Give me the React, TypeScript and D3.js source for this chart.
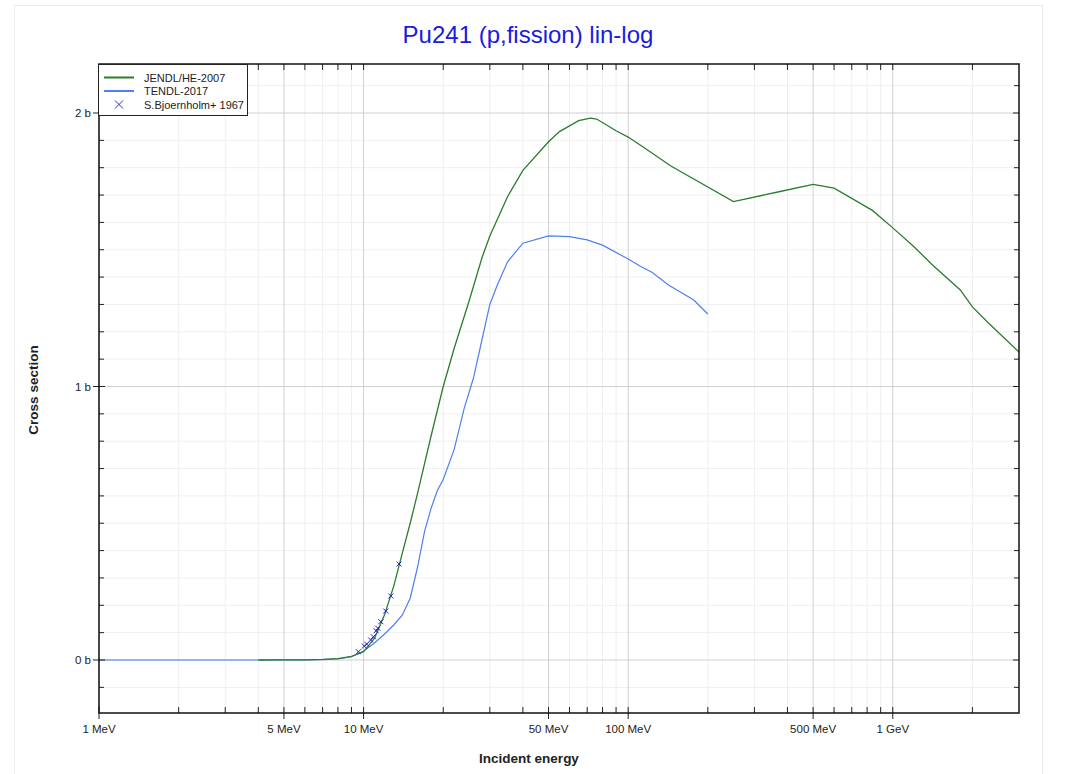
import React from "react";
import * as d3 from "d3";

const jendlE = [4, 5, 6, 7, 8, 9, 10, 11, 12, 13, 14, 15, 16, 18, 20, 22, 25, 28, 30, 35, 40, 50, 55, 65, 72, 76, 90, 100, 115, 145, 250, 375, 500, 600, 700, 840, 1000, 1200, 1400, 1800, 2000, 2300, 3000];
const jendlXS = [0, 0.0003, 0.0008, 0.002, 0.005, 0.013, 0.03, 0.08, 0.165, 0.27, 0.39, 0.5, 0.61, 0.82, 1.0, 1.14, 1.31, 1.47, 1.55, 1.694, 1.79, 1.895, 1.932, 1.972, 1.981, 1.978, 1.935, 1.912, 1.873, 1.806, 1.676, 1.713, 1.739, 1.725, 1.688, 1.643, 1.58, 1.512, 1.448, 1.353, 1.291, 1.232, 1.126];

const tendlE = [1, 2, 3, 4, 5, 6, 7, 8, 9, 10, 11, 12, 13, 14, 15, 16, 17, 18, 19, 20, 22, 24, 26, 28, 30, 32, 35, 40, 50, 60, 70, 80, 100, 112, 123, 142, 177, 200];
const tendlXS = [0, 0, 0, 0, 0.0002, 0.0006, 0.0015, 0.004, 0.012, 0.033, 0.062, 0.095, 0.128, 0.164, 0.226, 0.34, 0.47, 0.555, 0.62, 0.66, 0.77, 0.92, 1.03, 1.17, 1.3, 1.37, 1.456, 1.524, 1.551, 1.548, 1.536, 1.517, 1.466, 1.438, 1.418, 1.371, 1.316, 1.265];

const expE = [9.56, 10.07, 10.28, 10.64, 10.89, 11.15, 11.32, 11.62, 12.13, 12.68, 13.62];
const expXS = [0.03, 0.051, 0.058, 0.073, 0.085, 0.107, 0.116, 0.14, 0.179, 0.234, 0.351];

const xMajor = [1, 5, 10, 50, 100, 500, 1000];
const xMajorLabels = ["1 MeV", "5 MeV", "10 MeV", "50 MeV", "100 MeV", "500 MeV", "1 GeV"];
const xMinor = [2, 3, 4, 6, 7, 8, 9, 20, 30, 40, 60, 70, 80, 90, 200, 300, 400, 600, 700, 800, 900, 2000];
const yMajor = [0, 1, 2];
const yMajorLabels = ["0 b", "1 b", "2 b"];
const yMinor = [-0.1, 0.1, 0.2, 0.3, 0.4, 0.5, 0.6, 0.7, 0.8, 0.9, 1.1, 1.2, 1.3, 1.4, 1.5, 1.6, 1.7, 1.8, 1.9, 2.1];

const legendLabels = ["JENDL/HE-2007", "TENDL-2017", "S.Bjoernholm+ 1967"];

const GREEN = "#2a7d2e";
const BLUE = "#4f7ff0";
const MARK = "#1f1fb8";

export default function App() {
  const L = 99, R = 1019, T = 64, B = 713;
  const x = d3.scaleLog().domain([1, 3000]).range([L, R]);
  const y = d3.scaleLinear().domain([0, 2]).range([660, 113]);
  const line = d3
    .line<[number, number]>()
    .x((d) => x(d[0]))
    .y((d) => y(d[1]))
    .curve(d3.curveLinear);
  const jendl = jendlE.map((e, i) => [e, jendlXS[i]] as [number, number]);
  const tendl = tendlE.map((e, i) => [e, tendlXS[i]] as [number, number]);
  const font = "'Liberation Sans', Arial, sans-serif";

  return (
    <svg width={1067} height={774} style={{ position: "absolute", left: 0, top: 0 }} fontFamily={font}>
      <rect x={0} y={0} width={1067} height={774} fill="#fff" />
      <rect x={14.5} y={5.5} width={1028} height={800} fill="none" stroke="#ececec" />
      <text x={528} y={43} textAnchor="middle" fontSize={24} fill="#1a1ae0">
        Pu241 (p,fission) lin-log
      </text>
      <defs>
        <clipPath id="plotclip">
          <rect x={L} y={T} width={R - L} height={B - T} />
        </clipPath>
      </defs>
      {xMinor.map((v, i) => (
        <line key={"xm" + i} x1={x(v)} x2={x(v)} y1={T} y2={B} stroke="#efefef" />
      ))}
      {yMinor.map((v, i) => (
        <line key={"ym" + i} x1={L} x2={R} y1={y(v)} y2={y(v)} stroke="#efefef" />
      ))}
      {xMajor.map((v, i) => (
        <line key={"xM" + i} x1={x(v)} x2={x(v)} y1={T} y2={B} stroke="#d0d0d0" />
      ))}
      {yMajor.map((v, i) => (
        <line key={"yM" + i} x1={L} x2={R} y1={y(v)} y2={y(v)} stroke="#d0d0d0" />
      ))}
      <g clipPath="url(#plotclip)">
        <path d={line(tendl) || ""} fill="none" stroke={BLUE} strokeWidth={1.2} />
        <path d={line(jendl) || ""} fill="none" stroke={GREEN} strokeWidth={1.3} />
        {expE.map((e, i) => {
          const cx = x(e), cy = y(expXS[i]);
          return (
            <g key={"m" + i} stroke={MARK} strokeWidth={1}>
              <line x1={cx - 2.5} y1={cy - 2.5} x2={cx + 2.5} y2={cy + 2.5} />
              <line x1={cx - 2.5} y1={cy + 2.5} x2={cx + 2.5} y2={cy - 2.5} />
            </g>
          );
        })}
      </g>
      {xMinor.map((v, i) => (
        <g key={"xt" + i} stroke="#222">
          <line x1={x(v)} x2={x(v)} y1={B} y2={B - 6} />
          <line x1={x(v)} x2={x(v)} y1={T} y2={T + 6} />
        </g>
      ))}
      {xMajor.map((v, i) => (
        <g key={"xT" + i}>
          <line x1={x(v)} x2={x(v)} y1={B - 6} y2={B + 6} stroke="#222" />
          <line x1={x(v)} x2={x(v)} y1={T} y2={T + 6} stroke="#222" />
          <text x={x(v)} y={733} textAnchor="middle" fontSize={11.5} fill="#222">
            {xMajorLabels[i]}
          </text>
        </g>
      ))}
      {yMinor.map((v, i) => (
        <g key={"yt" + i} stroke="#222">
          <line x1={L} x2={L + 5} y1={y(v)} y2={y(v)} />
          <line x1={R} x2={R - 5} y1={y(v)} y2={y(v)} />
        </g>
      ))}
      {yMajor.map((v, i) => (
        <g key={"yT" + i}>
          <line x1={L - 6} x2={L + 6} y1={y(v)} y2={y(v)} stroke="#222" />
          <line x1={R - 6} x2={R} y1={y(v)} y2={y(v)} stroke="#222" />
          <text x={91} y={y(v) + 4} textAnchor="end" fontSize={11.5} fill="#222">
            {yMajorLabels[i]}
          </text>
        </g>
      ))}
      <rect x={L} y={T} width={R - L} height={B - T} fill="none" stroke="#111" strokeWidth={1.5} />
      <text x={529} y={763} textAnchor="middle" fontSize={13.5} fontWeight="bold" fill="#222">
        Incident energy
      </text>
      <text
        transform="translate(38,390) rotate(-90)"
        textAnchor="middle"
        fontSize={13.5}
        fontWeight="bold"
        fill="#222"
      >
        Cross section
      </text>
      <g>
        <rect x={98.5} y={64.5} width={149} height={51} fill="#fff" stroke="#222" strokeWidth={1} />
        <line x1={104} x2={134} y1={77.5} y2={77.5} stroke={GREEN} strokeWidth={2} />
        <line x1={104} x2={134} y1={91} y2={91} stroke={BLUE} strokeWidth={2} />
        <g stroke="#2a2ae0" strokeWidth={1}>
          <line x1={115} y1={100.5} x2={123} y2={108.5} />
          <line x1={115} y1={108.5} x2={123} y2={100.5} />
        </g>
        {legendLabels.map((t, i) => (
          <text key={"lg" + i} x={144} y={81.5 + i * 13.7} fontSize={11} fill="#222">
            {t}
          </text>
        ))}
      </g>
    </svg>
  );
}
